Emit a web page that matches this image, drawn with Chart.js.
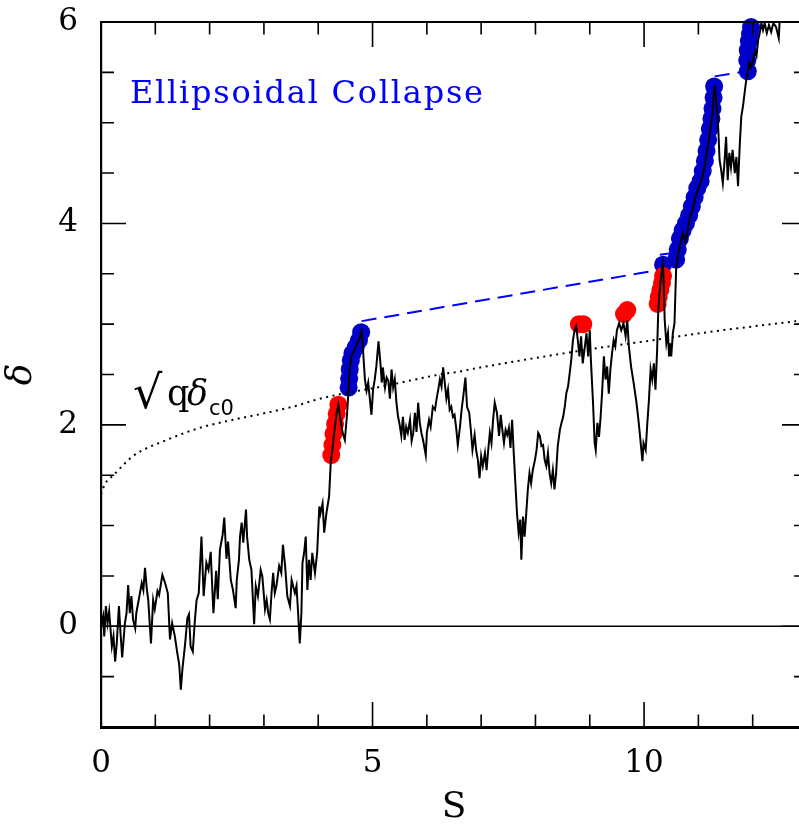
<!DOCTYPE html>
<html>
<head>
<meta charset="utf-8">
<script src="https://cdn.jsdelivr.net/npm/chart.js@4.4.0/dist/chart.umd.min.js"></script>
<style>
  html, body { margin: 0; padding: 0; background: #fff; overflow: hidden; }
  #wrap { width: 830px; height: 826px; }
</style>
</head>
<body>
<div id="wrap"><canvas id="grafico" width="830" height="826"></canvas></div>
<script>
// caminhada aleatória (S, delta)
const walkS = [0.00, 0.04, 0.06, 0.09, 0.12, 0.15, 0.20, 0.23, 0.26, 0.29, 0.33, 0.36, 0.39, 0.44, 0.47, 0.50, 0.53, 0.56, 0.59, 0.63,
  0.65, 0.70, 0.75, 0.78, 0.81, 0.84, 0.87, 0.92, 0.96, 0.99, 1.04, 1.07, 1.13, 1.18, 1.23, 1.27, 1.31, 1.36, 1.40, 1.44,
  1.47, 1.50, 1.55, 1.59, 1.62, 1.65, 1.69, 1.73, 1.76, 1.80, 1.85, 1.89, 1.94, 1.98, 2.02, 2.07, 2.12, 2.15, 2.19, 2.24,
  2.27, 2.31, 2.34, 2.39, 2.43, 2.48, 2.50, 2.54, 2.56, 2.59, 2.62, 2.67, 2.69, 2.73, 2.77, 2.82, 2.85, 2.89, 2.94, 2.97,
  3.02, 3.05, 3.08, 3.11, 3.14, 3.17, 3.20, 3.23, 3.28, 3.32, 3.35, 3.39, 3.43, 3.48, 3.51, 3.57, 3.60, 3.63, 3.66, 3.69,
  3.71, 3.74, 3.77, 3.80, 3.83, 3.86, 3.89, 3.94, 3.98, 4.02, 4.04, 4.08, 4.11, 4.15, 4.20, 4.23, 4.26, 4.30, 4.34, 4.37,
  4.41, 4.45, 4.49, 4.53, 4.56, 4.58, 4.61, 4.68, 4.76, 4.80, 4.83, 4.86, 4.89, 4.92, 4.95, 4.98, 5.01, 5.04, 5.07, 5.11,
  5.15, 5.17, 5.19, 5.23, 5.26, 5.29, 5.32, 5.35, 5.38, 5.41, 5.44, 5.47, 5.50, 5.53, 5.56, 5.59, 5.62, 5.65, 5.69, 5.72,
  5.75, 5.78, 5.81, 5.84, 5.87, 5.90, 5.93, 5.98, 6.00, 6.04, 6.07, 6.11, 6.15, 6.18, 6.21, 6.24, 6.27, 6.30, 6.33, 6.36,
  6.39, 6.42, 6.45, 6.48, 6.51, 6.54, 6.57, 6.61, 6.64, 6.67, 6.71, 6.74, 6.78, 6.81, 6.84, 6.88, 6.91, 6.94, 6.97, 7.00,
  7.03, 7.07, 7.10, 7.13, 7.16, 7.19, 7.22, 7.25, 7.29, 7.33, 7.36, 7.39, 7.42, 7.45, 7.48, 7.51, 7.54, 7.57, 7.60, 7.64,
  7.66, 7.69, 7.72, 7.74, 7.77, 7.80, 7.83, 7.86, 7.89, 7.92, 7.95, 7.99, 8.02, 8.05, 8.08, 8.11, 8.14, 8.17, 8.20, 8.23,
  8.26, 8.29, 8.32, 8.35, 8.38, 8.41, 8.45, 8.48, 8.51, 8.54, 8.57, 8.60, 8.63, 8.66, 8.69, 8.72, 8.75, 8.78, 8.81, 8.84,
  8.87, 8.91, 8.94, 8.97, 9.00, 9.02, 9.06, 9.09, 9.11, 9.14, 9.17, 9.20, 9.23, 9.26, 9.29, 9.32, 9.35, 9.38, 9.41, 9.44,
  9.47, 9.50, 9.54, 9.58, 9.62, 9.66, 9.69, 9.72, 9.76, 9.81, 9.86, 9.89, 9.92, 9.95, 9.97, 9.99, 10.03, 10.06, 10.09, 10.12,
  10.15, 10.18, 10.21, 10.24, 10.26, 10.29, 10.33, 10.35, 10.38, 10.41, 10.44, 10.46, 10.48, 10.50, 10.53, 10.56, 10.59, 10.62, 10.67, 10.71,
  10.76, 10.80, 10.84, 10.90, 10.95, 11.02, 11.07, 11.12, 11.16, 11.20, 11.23, 11.26, 11.28, 11.30, 11.36, 11.39, 11.42, 11.45, 11.48, 11.51,
  11.54, 11.57, 11.60, 11.63, 11.67, 11.70, 11.73, 11.76, 11.79, 11.82, 11.85, 11.88, 11.91, 11.94, 11.97, 12.01, 12.04, 12.07, 12.10, 12.13,
  12.16, 12.19, 12.22, 12.26, 12.30, 12.34, 12.38, 12.43, 12.48, 12.50, 12.55];
const walkD = [0.00, 0.10, -0.10, 0.20, 0.03, 0.15, -0.20, -0.10, -0.35, -0.17, 0.20, -0.07, -0.31, 0.03, 0.13, 0.41, 0.13, 0.30, 0.07, -0.02,
  0.13, 0.28, 0.43, 0.36, 0.58, 0.39, 0.26, -0.17, 0.26, 0.17, 0.35, 0.31, 0.51, 0.43, 0.33, -0.13, 0.03, -0.10, -0.25, -0.38,
  -0.63, -0.42, -0.17, 0.08, 0.12, -0.20, -0.25, 0.07, 0.26, 0.33, 0.89, 0.30, 0.63, 0.56, 0.74, 0.13, 0.55, 0.27, 0.76, 0.91,
  1.08, 0.67, 0.84, 0.46, 0.36, 0.18, 0.46, 0.66, 0.89, 1.03, 0.83, 1.16, 0.89, 0.66, 0.56, 0.02, 0.40, 0.30, 0.56, 0.50,
  0.17, 0.26, 0.13, 0.07, 0.33, 0.53, 0.33, 0.40, 0.60, 0.53, 0.81, 0.60, 0.30, 0.20, 0.46, 0.33, 0.40, 0.13, -0.17, 0.13,
  0.63, 0.73, 0.89, 0.36, 0.66, 0.46, 0.73, 0.53, 0.73, 1.19, 1.12, 1.22, 0.93, 1.12, 1.29, 1.62, 1.75, 1.95, 2.12, 2.20,
  2.05, 1.92, 1.85, 2.10, 2.36, 2.55, 2.68, 2.76, 2.86, 2.93, 2.70, 2.45, 2.34, 2.42, 2.26, 2.10, 2.35, 2.45, 2.58, 2.83,
  2.58, 2.42, 2.57, 2.37, 2.47, 2.44, 2.26, 2.55, 2.37, 2.45, 2.22, 2.08, 2.00, 1.89, 2.08, 1.85, 1.98, 1.92, 2.05, 1.84,
  1.92, 2.12, 1.93, 2.22, 2.02, 1.92, 1.85, 1.70, 1.92, 2.05, 1.98, 2.18, 2.15, 2.26, 2.35, 2.45, 2.38, 2.57, 2.42, 2.26,
  2.35, 2.15, 2.18, 2.08, 2.10, 1.97, 1.80, 1.98, 2.15, 2.28, 2.47, 2.18, 2.12, 1.95, 1.75, 1.90, 1.74, 1.65, 1.47, 1.69,
  1.59, 1.72, 1.55, 1.75, 1.92, 1.82, 2.05, 2.22, 2.12, 1.89, 2.10, 1.95, 1.82, 1.95, 1.90, 1.97, 1.77, 2.05, 1.72, 1.32,
  1.12, 0.93, 1.06, 0.66, 1.09, 0.89, 1.12, 1.36, 1.52, 1.42, 1.55, 1.65, 1.75, 1.92, 1.89, 1.79, 1.80, 1.65, 1.59, 1.72,
  1.52, 1.42, 1.55, 1.36, 1.52, 1.79, 1.95, 2.02, 2.08, 2.18, 2.32, 2.38, 2.51, 2.65, 2.84, 2.94, 2.98, 2.84, 2.68, 2.88,
  2.61, 2.78, 2.91, 2.68, 2.94, 2.65, 2.22, 1.82, 1.75, 2.02, 1.88, 2.08, 2.35, 2.68, 2.45, 2.58, 2.31, 2.55, 2.71, 2.84,
  2.78, 2.94, 3.01, 2.94, 3.01, 2.88, 3.04, 2.78, 2.58, 2.41, 2.22, 2.08, 1.92, 1.75, 1.64, 1.82, 1.75, 2.02, 2.25, 2.55,
  2.45, 2.61, 2.35, 2.74, 3.11, 3.35, 3.55, 3.60, 3.04, 2.81, 2.91, 2.68, 2.81, 2.68, 2.91, 3.01, 3.54, 3.68, 3.80, 3.90,
  3.82, 3.92, 4.05, 4.15, 4.27, 4.38, 4.46, 4.58, 4.72, 4.85, 4.98, 5.10, 5.25, 5.37, 5.02, 4.63, 4.53, 4.40, 4.60, 4.86,
  4.43, 4.70, 4.56, 4.73, 4.50, 4.66, 4.37, 4.76, 5.06, 5.16, 5.29, 5.42, 5.51, 5.60, 5.55, 5.62, 5.70, 5.66, 5.82, 5.89,
  5.99, 5.92, 5.99, 5.89, 5.97, 5.90, 5.99, 5.95, 5.84, 6.05, 6.20];

// barreira sqrt(q) delta_c0 (pontilhada)
const barrierS = [0.00, 0.07, 0.23, 0.59, 1.21, 1.82, 2.43, 3.05, 3.60, 4.03, 5.26, 6.24, 6.61, 6.79, 9.00, 10.16, 11.03, 12.80];
const barrierD = [1.31, 1.41, 1.50, 1.69, 1.85, 1.97, 2.05, 2.12, 2.19, 2.26, 2.39, 2.50, 2.53, 2.55, 2.75, 2.84, 2.91, 3.03];

// pontos vermelhos e azuis
const redS = [4.24, 4.26, 4.28, 4.31, 4.34, 4.37, 8.80, 8.88, 9.63, 9.69, 10.25, 10.27, 10.30, 10.33, 10.35];
const redD = [1.70, 1.80, 1.91, 2.01, 2.11, 2.20, 3.00, 3.00, 3.10, 3.14, 3.20, 3.27, 3.34, 3.41, 3.48];
const blueS = [4.56, 4.57, 4.58, 4.60, 4.63, 4.69, 4.75, 4.79, 10.35, 10.59, 10.62, 10.66, 10.71, 10.77, 10.83, 10.88, 10.93,
  10.98, 11.04, 11.08, 11.12, 11.15, 11.18, 11.21, 11.24, 11.26, 11.28, 11.29, 11.91, 11.90, 11.91, 11.93, 11.95, 11.97];
const blueD = [2.37, 2.46, 2.55, 2.64, 2.71, 2.77, 2.84, 2.92, 3.59, 3.64, 3.74, 3.85, 3.93, 4.00, 4.08, 4.17, 4.26,
  4.35, 4.42, 4.52, 4.62, 4.72, 4.83, 4.94, 5.04, 5.14, 5.25, 5.36, 5.51, 5.62, 5.72, 5.81, 5.88, 5.95];

// segmentos tracejados (colapso elipsoidal)
const dashS = [[4.80, 10.29], [10.29, 10.71], [11.30, 11.88]];
const dashD = [[3.03, 3.54], [3.69, 3.72], [5.46, 5.51]];

// linha zero
const zeroS = [0, 13];
const zeroD = [0, 0];

// marcas dos eixos
const xLabelTicks = [0, 5, 10];
const yLabelTicks = [0, 2, 4, 6];
const xMarks = [1, 2, 3, 4, 5, 6, 7, 8, 9, 10, 11, 12];
const yMarks = [-0.5, 0, 0.5, 1, 1.5, 2, 2.5, 3, 3.5, 4, 4.5, 5, 5.5];

const pts = (xs, ys) => xs.map((v, i) => ({ x: v, y: ys[i] }));

const SERIF = '"DejaVu Serif", "Liberation Serif", serif';

// zera o padding automático das escalas para fixar a área do gráfico
const noPad = s => { s.paddingTop = 0; s.paddingBottom = 0; s.paddingLeft = 0; s.paddingRight = 0; };

// ticks para dentro nos quatro lados + moldura
const frameTicks = {
    id: 'frameTicks',
    afterDatasetsDraw(chart) {
        const { ctx, chartArea: a, scales: { x, y } } = chart;
        ctx.save();
        ctx.strokeStyle = '#000';
        ctx.lineWidth = 1.6;
        ctx.beginPath();
        xMarks.forEach(v => {
            const px = x.getPixelForValue(v);
            const len = v % 5 === 0 ? 25 : 12.5;
            ctx.moveTo(px, a.bottom); ctx.lineTo(px, a.bottom - len);
            ctx.moveTo(px, a.top); ctx.lineTo(px, a.top + len);
        });
        yMarks.forEach(v => {
            const py = y.getPixelForValue(v);
            const len = v % 2 === 0 ? 25 : 13;
            ctx.moveTo(a.left, py); ctx.lineTo(a.left + len, py);
            ctx.moveTo(a.right, py); ctx.lineTo(a.right - len, py);
        });
        ctx.stroke();
        ctx.lineWidth = 2;
        ctx.beginPath();
        ctx.moveTo(a.left, a.top); ctx.lineTo(a.right, a.top); ctx.lineTo(a.right, a.bottom);
        ctx.stroke();
        ctx.restore();
    }
};

// textos dentro do gráfico
const labels = {
    id: 'labels',
    afterDatasetsDraw(chart) {
        const { ctx } = chart;
        ctx.save();
        ctx.textBaseline = 'alphabetic';
        ctx.textAlign = 'left';

        const txt = 'Ellipsoidal Collapse';
        ctx.font = '32px ' + SERIF;
        const w = ctx.measureText(txt).width;
        ctx.letterSpacing = ((353 - w) / (txt.length - 1)).toFixed(2) + 'px';
        ctx.fillStyle = '#0000ff';
        ctx.fillText(txt, 130, 103);
        ctx.letterSpacing = '0px';

        ctx.fillStyle = '#000';
        ctx.font = '46px ' + SERIF;
        ctx.fillText('\u221A', 133, 408);
        ctx.font = '35px ' + SERIF;
        ctx.fillText('q', 167, 405);
        ctx.font = 'italic 35px ' + SERIF;
        ctx.fillText('\u03B4', 187, 405);
        ctx.font = '21px "DejaVu Sans", sans-serif';
        ctx.fillText('c0', 209, 415);
        ctx.restore();
    }
};

new Chart(document.getElementById('grafico'), {
    type: 'scatter',
    data: {
        datasets: [
            {
                data: pts(zeroS, zeroD), showLine: true, borderColor: '#000',
                borderWidth: 1.6, pointRadius: 0
            },
            {
                data: pts(barrierS, barrierD), showLine: true, borderColor: '#000',
                borderWidth: 2, borderDash: [2, 4.5], pointRadius: 0, cubicInterpolationMode: 'monotone'
            },
            {
                data: pts(walkS, walkD), showLine: true, borderColor: '#000',
                borderWidth: 2, pointRadius: 0, tension: 0
            },
            {
                data: pts(redS, redD), backgroundColor: '#ff0000', borderWidth: 0,
                pointRadius: 9, clip: 12
            },
            {
                data: pts(blueS, blueD), backgroundColor: '#0000c8', borderWidth: 0,
                pointRadius: 9, clip: 12
            },
            ...dashS.map((s, i) => ({
                data: pts(s, dashD[i]), showLine: true, borderColor: '#0000ff',
                borderWidth: 2, borderDash: [15, 8], pointRadius: 0
            }))
        ]
    },
    options: {
        responsive: false,
        animation: false,
        layout: { padding: { top: 22, right: 23, left: 0, bottom: 0 } },
        plugins: { legend: { display: false }, tooltip: { enabled: false } },
        scales: {
            x: {
                type: 'linear', min: 0, max: 13,
                afterBuildTicks: s => { s.ticks = xLabelTicks.map(v => ({ value: v })); },
                afterFit: s => { s.height = 99; noPad(s); },
                grid: { display: false, drawTicks: false },
                border: { display: true, color: '#000', width: 3 },
                ticks: { color: '#000', font: { family: SERIF, size: 31 }, padding: 18, maxRotation: 0 },
                title: { display: true, text: 'S', color: '#000', font: { family: SERIF, size: 36, lineHeight: 1 }, padding: 0 }
            },
            y: {
                type: 'linear', min: -1, max: 6,
                afterBuildTicks: s => { s.ticks = yLabelTicks.map(v => ({ value: v })); },
                afterFit: s => { s.width = 101; noPad(s); },
                grid: { display: false, drawTicks: false },
                border: { display: true, color: '#000', width: 2.2 },
                ticks: { color: '#000', font: { family: SERIF, size: 31 }, padding: 23 },
                title: { display: true, text: '\u03B4', color: '#000', font: { family: SERIF, size: 36, style: 'italic', lineHeight: 1 }, padding: { top: 3.5, bottom: 0 } }
            }
        }
    },
    plugins: [frameTicks, labels]
});
</script>
</body>
</html>
